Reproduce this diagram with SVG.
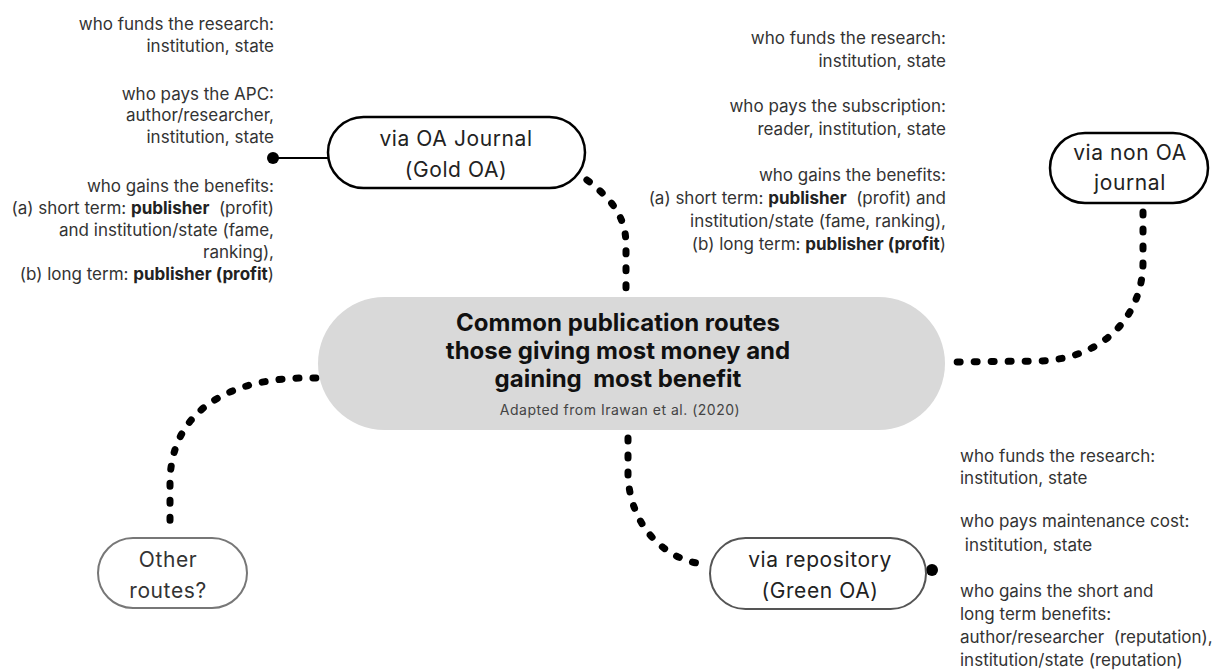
<svg xmlns="http://www.w3.org/2000/svg" width="1216" height="671" viewBox="0 0 1216 671">
<style>
.t{font-family:Inter,"Open Sans","Liberation Sans",sans-serif;font-size:17px;fill:#333}
.r{text-anchor:end}
.b{font-weight:700;fill:#222}
.lbl{font-family:Inter,"Open Sans","Liberation Sans",sans-serif;font-size:21px;letter-spacing:0.6px;fill:#222;text-anchor:middle}
.title{font-family:Inter,"Liberation Sans",sans-serif;font-size:24px;font-weight:700;fill:#111;text-anchor:middle}
.dots{fill:none;stroke:#000;stroke-width:7;stroke-linecap:round;stroke-dasharray:3 14}
</style>
<rect width="1216" height="671" fill="#fff"/>
<g id="connectors">
<path class="dots" d="M 573 170 C 610 195, 626 215, 626 245 L 626 294"/>
<path class="dots" d="M 1143 212 L 1143 262 C 1143 312, 1108 358, 1040 361 L 952 362"/>
<path class="dots" d="M 316 378 C 230 376, 172 410, 170 480 L 170 530"/>
<path class="dots" d="M 628 438 L 628 475 C 630 530, 670 562, 705 564"/>
<line x1="273" y1="158" x2="342" y2="158" stroke="#000" stroke-width="2"/>
<circle cx="273" cy="158" r="6" fill="#000"/>
<line x1="913" y1="570" x2="921" y2="570" stroke="#000" stroke-width="6"/>
<circle cx="932" cy="570" r="6" fill="#000"/>
</g>
<g id="center">
<rect x="318" y="297" width="627" height="133" rx="66.5" fill="#d9d9d9"/>
<text class="title" x="618" y="331">Common publication routes</text>
<text class="title" x="618" y="359">those giving most money and</text>
<text class="title" x="618" y="387" xml:space="preserve">gaining  most benefit</text>
<text x="620" y="415" text-anchor="middle" style="font-family:Inter,'Liberation Sans',sans-serif;font-size:14px;letter-spacing:0.5px;fill:#444">Adapted from Irawan et al. (2020)</text>
</g>
<g id="gold">
<rect x="328" y="117" width="257" height="71" rx="35.5" fill="#fff" stroke="#000" stroke-width="2.5"/>
<text class="lbl" x="456" y="146">via OA Journal</text>
<text class="lbl" x="456" y="177">(Gold OA)</text>
</g>
<g id="gold-notes">
<text class="t r" x="274" y="30">who funds the research:</text>
<text class="t r" x="274" y="52">institution, state</text>
<text class="t r" x="274" y="100">who pays the APC:</text>
<text class="t r" x="274" y="121">author/researcher,</text>
<text class="t r" x="274" y="143">institution, state</text>
<text class="t r" x="274" y="192">who gains the benefits:</text>
<text class="t r" x="274" y="214" xml:space="preserve">(a) short term: <tspan class="b">publisher</tspan>  (profit)</text>
<text class="t r" x="274" y="236">and institution/state (fame,</text>
<text class="t r" x="274" y="258">ranking),</text>
<text class="t r" x="274" y="280">(b) long term: <tspan class="b">publisher (profit</tspan>)</text>
</g>
<g id="nonoa">
<rect x="1050" y="133" width="158" height="70" rx="35" fill="#fff" stroke="#000" stroke-width="2.5"/>
<text class="lbl" x="1130" y="160">via non OA</text>
<text class="lbl" x="1130" y="190">journal</text>
</g>
<g id="nonoa-notes">
<text class="t r" x="946" y="44">who funds the research:</text>
<text class="t r" x="946" y="67">institution, state</text>
<text class="t r" x="946" y="112">who pays the subscription:</text>
<text class="t r" x="946" y="135">reader, institution, state</text>
<text class="t r" x="946" y="181">who gains the benefits:</text>
<text class="t r" x="946" y="204" xml:space="preserve">(a) short term: <tspan class="b">publisher</tspan>  (profit) and</text>
<text class="t r" x="946" y="227">institution/state (fame, ranking),</text>
<text class="t r" x="946" y="250">(b) long term: <tspan class="b">publisher (profit</tspan>)</text>
</g>
<g id="other">
<rect x="98" y="538" width="149" height="70" rx="35" fill="#fff" stroke="#777" stroke-width="2"/>
<text class="lbl" x="168" y="567" style="fill:#333">Other</text>
<text class="lbl" x="168" y="598" style="fill:#333">routes?</text>
</g>
<g id="repo">
<rect x="710" y="538" width="216" height="71" rx="35.5" fill="#fff" stroke="#555" stroke-width="2"/>
<text class="lbl" x="820" y="567">via repository</text>
<text class="lbl" x="820" y="598">(Green OA)</text>
</g>
<g id="repo-notes">
<text class="t" x="960" y="462">who funds the research:</text>
<text class="t" x="960" y="484">institution, state</text>
<text class="t" x="960" y="527">who pays maintenance cost:</text>
<text class="t" x="960" y="551" xml:space="preserve"> institution, state</text>
<text class="t" x="960" y="597">who gains the short and</text>
<text class="t" x="960" y="620">long term benefits:</text>
<text class="t" x="960" y="643" xml:space="preserve">author/researcher  (reputation),</text>
<text class="t" x="960" y="666">institution/state (reputation)</text>
</g>
</svg>
